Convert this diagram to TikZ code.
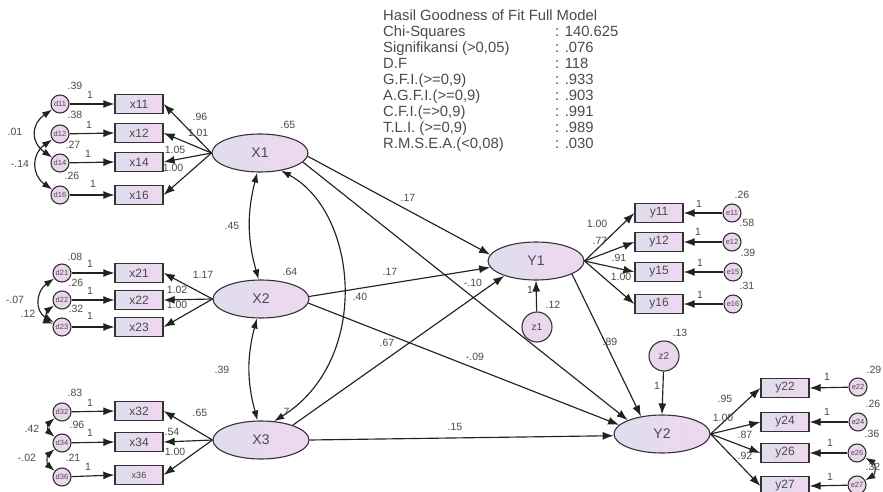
\documentclass[tikz,border=0pt]{standalone}
\usepackage{fontspec}
\setmainfont{Liberation Sans}
\usetikzlibrary{shapes.geometric,arrows.meta}
\definecolor{cL}{HTML}{DEDEEE}
\definecolor{cR}{HTML}{F0D6F0}
\definecolor{cC}{HTML}{ECD6EE}
\definecolor{bd}{HTML}{333333}
\definecolor{tx}{HTML}{4A4A4A}
\definecolor{ln}{HTML}{222222}
\begin{document}
\begin{tikzpicture}[x=1pt,y=-1pt,
 lat/.style={ellipse, draw=bd, line width=1.1pt, left color=cL, right color=cR, minimum width=96pt, minimum height=38pt, inner sep=0pt, text=tx, font=\fontsize{14}{14}\selectfont},
 obs/.style={rectangle, draw=bd, line width=1.3pt, left color=cL, right color=cR, minimum width=48pt, minimum height=19pt, inner sep=0pt, text=tx, font=\fontsize{12}{12}\selectfont},
 errc/.style={circle, draw=bd, line width=1.1pt, fill=cC, minimum size=18pt, inner sep=0pt, text=tx, font=\fontsize{7.5}{7.5}\selectfont},
 dist/.style={circle, draw=bd, line width=1.1pt, fill=cC, minimum size=30pt, inner sep=0pt, text=tx, font=\fontsize{10}{10}\selectfont},
 lab/.style={inner sep=0pt, text=tx, font=\fontsize{10.5}{10.5}\selectfont},
 arr/.style={draw=ln, line width=1.15pt, -{Latex[length=11pt,width=8pt]}},
 barr/.style={draw=ln, line width=1.15pt, {Latex[length=10pt,width=7pt]}-{Latex[length=10pt,width=7pt]}},
]
\useasboundingbox (0,0) rectangle (883,492);

% fit table
\node[inner sep=0pt, anchor=north west, text=tx, font=\fontsize{14.8}{16}\selectfont] (fit) at (383,8.8) {%
\begin{tabular}{@{}p{172pt}@{}l@{}}
\multicolumn{2}{@{}l@{}}{Hasil Goodness of Fit Full Model}\\
Chi-Squares & : 140.625\\
Signifikansi (>0,05) & : .076\\
D.F & : 118\\
G.F.I.(>=0,9) & : .933\\
A.G.F.I.(>=0,9) & : .903\\
C.F.I.(=>0,9) & : .991\\
T.L.I. (>=0,9) & : .989\\
R.M.S.E.A.(<0,08) & : .030
\end{tabular}};

% latent variables
\node[lat] (X1) at (260,153) {X1};
\node[lat] (X2) at (261,299) {X2};
\node[lat] (X3) at (261,440) {X3};
\node[lat] (Y1) at (536,261) {Y1};
\node[lat] (Y2) at (662,434) {Y2};
\node[dist] (z1) at (537,327) {z1};
\node[dist] (z2) at (664,356) {z2};

% X1 block
\node[obs] (x11) at (139,104) {x11};
\node[obs] (x12) at (139,133) {x12};
\node[obs] (x14) at (139,162) {x14};
\node[obs] (x16) at (139,195) {x16};
\node[errc] (d11) at (60,104) {d11};
\node[errc] (d12) at (60,134) {d12};
\node[errc] (d14) at (60,163) {d14};
\node[errc] (d16) at (60,195) {d16};
% X2 block
\node[obs] (x21) at (139,273) {x21};
\node[obs] (x22) at (139,300) {x22};
\node[obs] (x23) at (139,327) {x23};
\node[errc] (d21) at (62,273) {d21};
\node[errc] (d22) at (62,300) {d22};
\node[errc] (d23) at (62,327) {d23};
% X3 block
\node[obs] (x32) at (139,411) {x32};
\node[obs] (x34) at (139,442) {x34};
\node[obs, font=\fontsize{9}{9}\selectfont] (x36) at (139,475) {x36};
\node[errc] (d32) at (62,412) {d32};
\node[errc] (d34) at (62,443) {d34};
\node[errc] (d36) at (62,477) {d36};
% Y1 block
\node[obs] (y11) at (659,213) {y11};
\node[obs] (y12) at (659,242) {y12};
\node[obs] (y15) at (659,272) {y15};
\node[obs] (y16) at (659,304) {y16};
\node[errc] (e11) at (732,213) {e11};
\node[errc] (e12) at (732,242) {e12};
\node[errc] (e15) at (733,272) {e15};
\node[errc] (e16) at (733,304) {e16};
% Y2 block
\node[obs] (y22) at (785,388) {y22};
\node[obs] (y24) at (785,422) {y24};
\node[obs] (y26) at (785,453) {y26};
\node[obs] (y27) at (785,486) {y27};
\node[errc] (e22) at (858,387) {e22};
\node[errc] (e24) at (858,422) {e24};
\node[errc] (e26) at (857,453) {e26};
\node[errc] (e27) at (857,485) {e27};

% loadings
\foreach \i in {x11,x12,x14,x16} \draw[arr] (X1.west) -- (\i.east);
\foreach \i in {x21,x22,x23} \draw[arr] (X2.west) -- (\i.east);
\foreach \i in {x32,x34,x36} \draw[arr] (X3.west) -- (\i.east);
\foreach \i in {y11,y12,y15,y16} \draw[arr] (Y1.east) -- (\i.west);
\foreach \i in {y22,y24,y26,y27} \draw[arr] (Y2.east) -- (\i.west);
% errors
\foreach \d/\x in {d11/x11,d12/x12,d14/x14,d16/x16,d21/x21,d22/x22,d23/x23,d32/x32,d34/x34,d36/x36}
  \draw[arr] (\d) -- (\x.west);
\foreach \e/\y in {e11/y11,e12/y12,e15/y15,e16/y16,e22/y22,e24/y24,e26/y26,e27/y27}
  \draw[arr] (\e) -- (\y.east);
% error covariances
\draw[barr] (d11) to[out=215,in=145,looseness=1.4] (d14);
\draw[barr] (d12) to[out=215,in=145,looseness=1.3] (d16);
\draw[barr] (d21) to[out=215,in=150,looseness=1.3] (d23);
\draw[barr] (d22) to[out=215,in=160,looseness=1.2] (d23);
\draw[barr] (d32) to[out=220,in=140,looseness=1.2] (d34);
\draw[barr] (d34) to[out=220,in=140,looseness=1.2] (d36);
\draw[barr] (e26) to[out=-30,in=30,looseness=1.4] (e27);

% structural paths
\draw[arr] (X1.-4) -- (Y1.172);
\draw[arr] (X1.-12) -- (Y2.158);
\draw[arr] (X2.3) -- (Y1.188);
\draw[arr] (X2.-5) -- (Y2.168);
\draw[arr] (X3.25) -- (Y1.205);
\draw[arr] (X3.east) -- (Y2.182);
\draw[arr] (Y1.-20) -- (Y2.140);
\draw[arr] (z1) -- (Y1.south);
\draw[arr] (z2) -- (Y2.north);
% latent covariances
\draw[barr] (X1.262) to[bend right=15] (X2.97);
\draw[barr] (X2.258) to[bend right=15] (X3.100);
\draw[barr] (X1.-40) .. controls (358,212) and (372,360) .. (X3.55);

% labels X1 block
\node[lab] (a1) at (75,86) {.39};
\node[lab] (a2) at (90,95) {1};
\node[lab] (a3) at (75,115) {.38};
\node[lab] (a4) at (89,125) {1};
\node[lab] (a5) at (73,145) {.27};
\node[lab] (a6) at (88,154) {1};
\node[lab] (a7) at (72,176) {.26};
\node[lab] (a8) at (93,184) {1};
\node[lab] (a9) at (200,117) {.96};
\node[lab] (a10) at (198,133) {1.01};
\node[lab] (a11) at (175,150) {1.05};
\node[lab] (a12) at (173,168) {1.00};
\node[lab] (a13) at (15,132) {.01};
\node[lab] (a14) at (20,164) {-.14};
\node[lab] (a15) at (288,125) {.65};
% labels X2 block
\node[lab] (b1) at (75,257) {.08};
\node[lab] (b2) at (90,264) {1};
\node[lab] (b3) at (76,283) {.26};
\node[lab] (b4) at (90,291) {1};
\node[lab] (b5) at (76,309) {.32};
\node[lab] (b6) at (90,316) {1};
\node[lab] (b7) at (203,275) {1.17};
\node[lab] (b8) at (177,290) {1.02};
\node[lab] (b9) at (177,305) {1.00};
\node[lab] (b10) at (15,300) {-.07};
\node[lab] (b11) at (28,314) {.12};
\node[lab] (b12) at (290,272) {.64};
\node[lab] (b13) at (232,226) {.45};
% labels X3 block
\node[lab] (c1) at (75,393) {.83};
\node[lab] (c2) at (90,403) {1};
\node[lab] (c3) at (77,425) {.96};
\node[lab] (c4) at (90,433) {1};
\node[lab] (c5) at (73,458) {.21};
\node[lab] (c6) at (88,467) {1};
\node[lab] (c7) at (200,413) {.65};
\node[lab] (c8) at (172,432) {.54};
\node[lab] (c9) at (175,452) {1.00};
\node[lab] (c10) at (32,429) {.42};
\node[lab] (c11) at (27,458) {-.02};
\node[lab] (c12) at (285,412) {.7};
\node[lab] (c13) at (222,370) {.39};
% structural labels
\node[lab] (s1) at (408,198) {.17};
\node[lab] (s2) at (473,283) {-.10};
\node[lab] (s3) at (390,272) {.17};
\node[lab] (s4) at (360,297) {.40};
\node[lab] (s5) at (475,357) {-.09};
\node[lab] (s6) at (387,343) {.67};
\node[lab] (s7) at (455,427) {.15};
\node[lab] (s8) at (610,342) {.89};
\node[lab] (s9) at (530,290) {1};
\node[lab] (s10) at (553,305) {.12};
\node[lab] (s11) at (657,386) {1};
\node[lab] (s12) at (680,333) {.13};
% Y1 block labels
\node[lab] (f1) at (597,224) {1.00};
\node[lab] (f2) at (600,241) {.77};
\node[lab] (f3) at (619,258) {.91};
\node[lab] (f4) at (621,277) {1.00};
\node[lab] (f5) at (699,204) {1};
\node[lab] (f6) at (698,232) {1};
\node[lab] (f7) at (700,263) {1};
\node[lab] (f8) at (700,295) {1};
\node[lab] (f9) at (742,195) {.26};
\node[lab] (f10) at (747,223) {.58};
\node[lab] (f11) at (748,253) {.39};
\node[lab] (f12) at (747,286) {.31};
% Y2 block labels
\node[lab] (g1) at (725,399) {.95};
\node[lab] (g2) at (723,418) {1.00};
\node[lab] (g3) at (745,435) {.87};
\node[lab] (g4) at (745,456) {.92};
\node[lab] (g5) at (827,377) {1};
\node[lab] (g6) at (827,412) {1};
\node[lab] (g7) at (830,443) {1};
\node[lab] (g8) at (830,477) {1};
\node[lab] (g9) at (874,370) {.29};
\node[lab] (g10) at (873,404) {.26};
\node[lab] (g11) at (872,434) {.36};
\node[lab] (g12) at (873,467) {.32};
\end{tikzpicture}
\end{document}
